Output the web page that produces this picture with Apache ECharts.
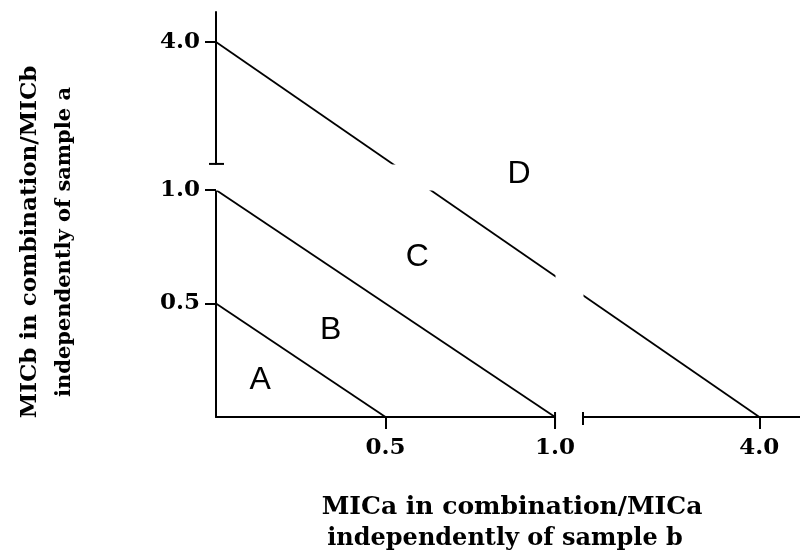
<!DOCTYPE html>
<html><head><meta charset="utf-8">
<script src="https://cdn.jsdelivr.net/npm/echarts@6/dist/echarts.min.js"></script>
<style>html,body{margin:0;padding:0;background:#fff}#c{width:800px;height:553px}</style>
</head><body><div id="c"></div>
<script>
// ---- data ----
const xTickValues = [0.5, 1.0, 4.0];
const yTickValues = [0.5, 1.0, 4.0];
const xBreak = [1.0, 3.48];
const yBreak = [1.0, 3.463];
const xRange = [0, 4.12];
const yRange = [0, 4.132];
const lineAB = [[0, 0.5], [0.5, 0]];
const lineBC = [[0, 1.0], [1.0, 0]];
const lineCD = [[0, 4.0], [4.0, 0]];
const regionLabels = ['A', 'B', 'C', 'D'];
const regionX = [0.13, 0.338, 0.594, 0.894];
const regionY = [0.163, 0.383, 0.705, 2.52];
const xTitle = ['MICa in combination/MICa', 'independently of sample b'];
const yTitle = ['MICb in combination/MICb', 'independently of sample a'];

const serif = "'DejaVu Serif', serif";
const chart = echarts.init(document.getElementById('c'), null, {renderer: 'canvas'});
const lineSeries = (d) => ({
  type: 'line', data: d, symbol: 'none', silent: true, z: 2,
  lineStyle: {color: '#000', width: 1.8}, animation: false
});
const capSeries = (pts, size, offset) => ({
  type: 'scatter', data: pts, symbol: 'rect', symbolSize: size, symbolOffset: offset,
  itemStyle: {color: '#000', opacity: 1}, clip: false, silent: true, zlevel: 1, z: 30
});
chart.setOption({
  animation: false,
  backgroundColor: '#fff',
  grid: {left: 216, right: 0, top: 12, bottom: 136},
  xAxis: {
    type: 'value', min: xRange[0], max: xRange[1],
    breaks: [{start: xBreak[0], end: xBreak[1], gap: '4.79%'}],
    breakArea: {show: true, itemStyle: {color: '#fff', borderWidth: 0, opacity: 1}, zigzagAmplitude: 0, expandOnClick: false},
    splitLine: {show: false},
    axisLine: {show: true, lineStyle: {color: '#000', width: 2}},
    axisTick: {show: true, length: 12, lineStyle: {color: '#000', width: 2}, customValues: xTickValues},
    axisLabel: {customValues: xTickValues, margin: 20, color: '#000', fontFamily: serif, fontWeight: 'bold', fontSize: 23,
      formatter: v => v.toFixed(1)}
  },
  yAxis: {
    type: 'value', min: yRange[0], max: yRange[1],
    breaks: [{start: yBreak[0], end: yBreak[1], gap: '6.42%'}],
    breakArea: {show: true, itemStyle: {color: '#fff', borderWidth: 0, opacity: 1}, zigzagAmplitude: 0, expandOnClick: false},
    splitLine: {show: false},
    axisLine: {show: true, lineStyle: {color: '#000', width: 2}},
    axisTick: {show: true, length: 11, lineStyle: {color: '#000', width: 2}, customValues: yTickValues},
    axisLabel: {customValues: yTickValues, margin: 16, color: '#000', fontFamily: serif, fontWeight: 'bold', fontSize: 23,
      formatter: v => v.toFixed(1)}
  },
  series: [
    lineSeries(lineAB), lineSeries(lineBC), lineSeries(lineCD),
    capSeries([[xBreak[0], 0]], [2, 16], [0, 3]),
    capSeries([[xBreak[1], 0]], [2, 13], [0, 1.5]),
    capSeries([[0, yBreak[1]]], [15, 2], [0.5, 0]),
    {
      type: 'scatter', zlevel: 1, z: 20, silent: true, symbolSize: 1, clip: false,
      itemStyle: {opacity: 0},
      data: regionLabels.map((t, i) => ({value: [regionX[i], regionY[i]], name: t})),
      label: {show: true, position: 'inside', formatter: p => p.name, color: '#000', opacity: 1,
        textBorderWidth: 0, fontFamily: "'Liberation Sans', Arial, sans-serif", fontSize: 32}
    }
  ],
  graphic: [
    {type: 'text', x: 512, y: 507, style: {text: xTitle[0], textAlign: 'center', textVerticalAlign: 'middle', font: "bold 25px 'DejaVu Serif'", fill: '#000'}},
    {type: 'text', x: 505, y: 539, style: {text: xTitle[1], textAlign: 'center', textVerticalAlign: 'middle', font: "bold 24px 'DejaVu Serif'", fill: '#000'}},
    {type: 'text', x: 30, y: 242, rotation: Math.PI / 2, style: {text: yTitle[0], textAlign: 'center', textVerticalAlign: 'middle', font: "bold 23px 'DejaVu Serif'", fill: '#000'}},
    {type: 'text', x: 65, y: 242, rotation: Math.PI / 2, style: {text: yTitle[1], textAlign: 'center', textVerticalAlign: 'middle', font: "bold 21px 'DejaVu Serif'", fill: '#000'}}
  ]
});
</script></body></html>
